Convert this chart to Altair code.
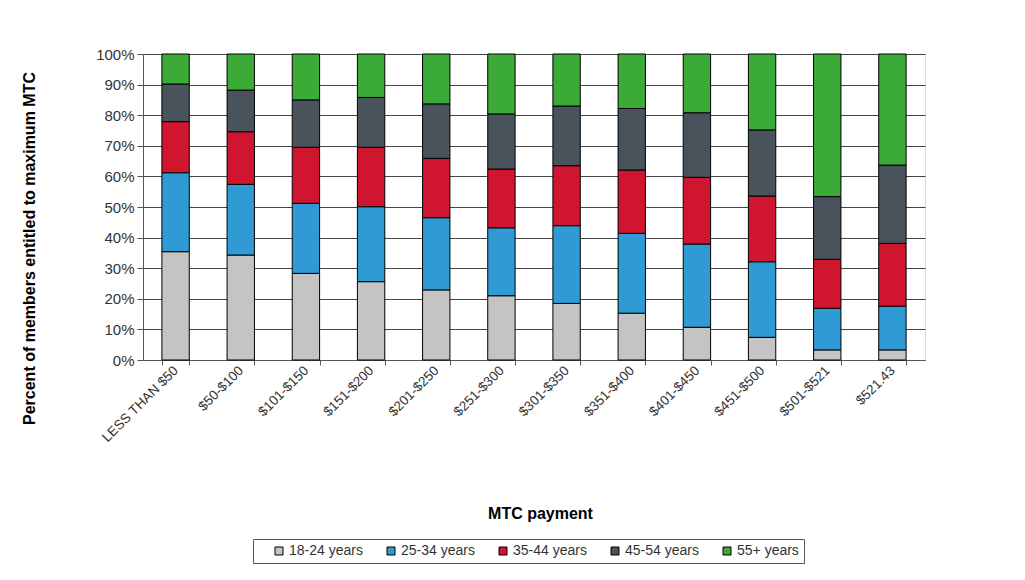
import altair as alt
import pandas as pd

categories = ["LESS THAN $50", "$50-$100", "$101-$150", "$151-$200", "$201-$250",
              "$251-$300", "$301-$350", "$351-$400", "$401-$450", "$451-$500",
              "$501-$521", "$521.43"]
groups = ["18-24 years", "25-34 years", "35-44 years", "45-54 years", "55+ years"]
colors = ["#C4C4C4", "#2F9AD3", "#CF1530", "#48535C", "#3BAA36"]

# segment shares (percent)
age_18_24 = [35.4, 34.3, 28.3, 25.6, 22.9, 21.0, 18.5, 15.3, 10.7, 7.4, 3.3, 3.3]
age_25_34 = [25.8, 23.1, 22.9, 24.5, 23.6, 22.2, 25.4, 26.1, 27.2, 24.7, 13.6, 14.3]
age_35_44 = [16.7, 17.2, 18.3, 19.4, 19.4, 19.2, 19.6, 20.7, 21.8, 21.5, 16.0, 20.5]
age_45_54 = [12.3, 13.6, 15.5, 16.3, 17.8, 18.0, 19.5, 20.1, 21.1, 21.6, 20.5, 25.6]
age_55_up = [9.8, 11.8, 15.0, 14.2, 16.3, 19.6, 17.0, 17.8, 19.2, 24.8, 46.6, 36.3]

series = [age_18_24, age_25_34, age_35_44, age_45_54, age_55_up]
rows = []
for gi, (g, vals) in enumerate(zip(groups, series)):
    for c, v in zip(categories, vals):
        rows.append({"payment": c, "group": g, "order": gi, "share": v})
df = pd.DataFrame(rows)

font = "Liberation Sans"

chart = alt.Chart(df).mark_bar(stroke="black", strokeWidth=1).encode(
    x=alt.X("payment:N", sort=categories,
            scale=alt.Scale(paddingInner=0.58, paddingOuter=0.29),
            axis=alt.Axis(title="MTC payment", labelAngle=-45, labelAlign="right",
                          labelBaseline="middle", tickBand="extent",
                          domainColor="#555555", tickColor="#555555", tickSize=5,
                          labelFontSize=13.5, labelColor="#333333", labelPadding=3,
                          titleFontSize=16, titleFontWeight="bold", titleY=145,
                          titleX=397, titleColor="black")),
    y=alt.Y("share:Q", stack="zero",
            scale=alt.Scale(domain=[0, 100], nice=False),
            axis=alt.Axis(title="Percent of members entitled to maximum MTC",
                          values=list(range(0, 101, 10)),
                          labelExpr="datum.value + '%'",
                          grid=True, gridColor="#444444", gridWidth=1,
                          domainColor="#555555", tickColor="#555555", tickSize=6,
                          labelFontSize=15, labelColor="#333333", labelPadding=3,
                          titleFontSize=16, titleFontWeight="bold",
                          titleX=-106, titleY=194, titleColor="black")),
    color=alt.Color("group:N", scale=alt.Scale(domain=groups, range=colors),
                    legend=alt.Legend(title="\u00a0", titleOrient="left", titlePadding=14,
                                      orient="none", direction="horizontal",
                                      columns=5, legendX=110, legendY=485,
                                      strokeColor="#555555", padding=5,
                                      symbolType="square", symbolSize=64,
                                      symbolStrokeColor="black", symbolStrokeWidth=1,
                                      labelFontSize=14, labelColor="#333333",
                                      columnPadding=21, labelOffset=3)),
    order=alt.Order("order:Q", sort="ascending"),
).properties(
    width=782, height=306,
    autosize=alt.AutoSizeParams(type="none"),
    padding={"left": 135, "top": 46, "right": 90, "bottom": 205},
).configure_view(
    stroke="#777777", strokeWidth=1
).configure(
    font=font
)

chart.save("out.html", embed_options={"renderer": "svg", "actions": False})
